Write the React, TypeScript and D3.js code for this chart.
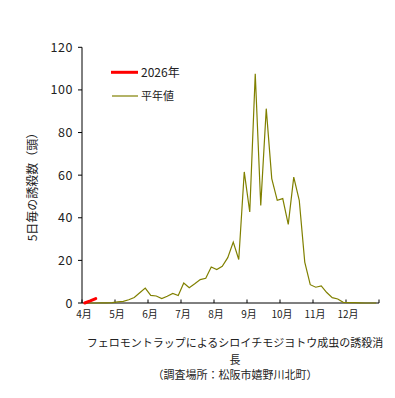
import React from 'react';
import * as d3 from 'd3';

// 月ラベル（各月6半旬）
const months = ['4月', '5月', '6月', '7月', '8月', '9月', '10月', '11月', '12月'];
const yTicks = [0, 20, 40, 60, 80, 100, 120];

// 半旬ごとの誘殺数
const current2026 = [0, 1, 2.1];
const normalValues = [
  0, 0, 0, 0.1, 0.1, 0.2,
  0.5, 0.8, 1.5, 2.6, 4.8, 7.0,
  3.6, 3.3, 2.1, 3.2, 4.5, 3.5,
  9.4, 7.2, 9.0, 11.0, 11.6, 16.9,
  15.7, 17.2, 21.3, 28.6, 20.4, 61.5,
  42.7, 107.6, 45.8, 91.2, 58.4, 48.2,
  49.0, 36.9, 59.1, 48.2, 19.2, 8.6,
  7.4, 8.0, 4.9, 2.5, 1.9, 0.3,
  0.2, 0.2, 0.1, 0, 0, 0,
];

const titleLines = [
  'フェロモントラップによるシロイチモジヨトウ成虫の誘殺消',
  '長',
  '（調査場所：松阪市嬉野川北町）',
];

const FONT = '"Noto Sans CJK JP", "Noto Sans", sans-serif';

export default function App() {
  const width = 395;
  const height = 398;
  const left = 82;
  const right = 379;
  const top = 47.3;
  const bottom = 303;

  const nPeriods = months.length * 6;
  const x = d3.scaleLinear().domain([0, nPeriods]).range([left, right]);
  const y = d3.scaleLinear().domain([0, 120]).range([bottom, top]);

  const line = d3
    .line<number>()
    .x((_, i) => x(i + 0.5))
    .y((d) => y(d));

  const monthTicks = d3.range(0, nPeriods + 1, 6);

  return (
    <svg
      width={width}
      height={height}
      style={{ position: 'absolute', left: 0, top: 0, background: '#fff' }}
      fontFamily={FONT}
    >
      {/* y axis */}
      <line x1={left} x2={left} y1={top} y2={bottom} stroke="#000" strokeWidth={1} />
      {yTicks.map((t) => (
        <g key={t}>
          <line x1={left - 4} x2={left} y1={y(t)} y2={y(t)} stroke="#000" />
          <text
            x={73}
            y={y(t)}
            dy="0.36em"
            textAnchor="end"
            fontSize={12.5}
            letterSpacing={0.6}
            fill="#222"
          >
            {t}
          </text>
        </g>
      ))}

      {/* x axis */}
      <line x1={left} x2={right} y1={bottom} y2={bottom} stroke="#000" />
      {monthTicks.map((t) => (
        <line key={t} x1={x(t)} x2={x(t)} y1={bottom - 3.5} y2={bottom} stroke="#000" />
      ))}
      {months.map((m, i) => (
        <text
          key={m}
          x={x(i * 6) + 2}
          y={318}
          textAnchor="middle"
          fontSize={10}
          fill="#222"
        >
          {m}
        </text>
      ))}

      {/* y title */}
      <text
        transform={`translate(37,184) rotate(-90)`}
        textAnchor="middle"
        fontSize={12}
        fill="#222"
      >
        5日毎の誘殺数（頭）
      </text>

      {/* series */}
      <path d={line(normalValues) || ''} fill="none" stroke="#808000" strokeWidth={1.2} />
      <path
        d={line(current2026) || ''}
        fill="none"
        stroke="#ff0000"
        strokeWidth={3}
        strokeLinecap="round"
      />

      {/* legend */}
      <line x1={111} x2={138} y1={72.3} y2={72.3} stroke="#ff0000" strokeWidth={3} />
      <text x={141} y={72.3} dy="0.36em" fontSize={12} fill="#222">2026年</text>
      <line x1={112} x2={138} y1={96} y2={96} stroke="#808000" strokeWidth={1.2} />
      <text x={141} y={96} dy="0.36em" fontSize={11} fill="#222">平年値</text>

      {/* title */}
      {titleLines.map((s, i) => (
        <text
          key={i}
          x={235}
          y={[347, 364, 379][i]}
          textAnchor="middle"
          fontSize={11}
          fill="#222"
        >
          {s}
        </text>
      ))}
    </svg>
  );
}
